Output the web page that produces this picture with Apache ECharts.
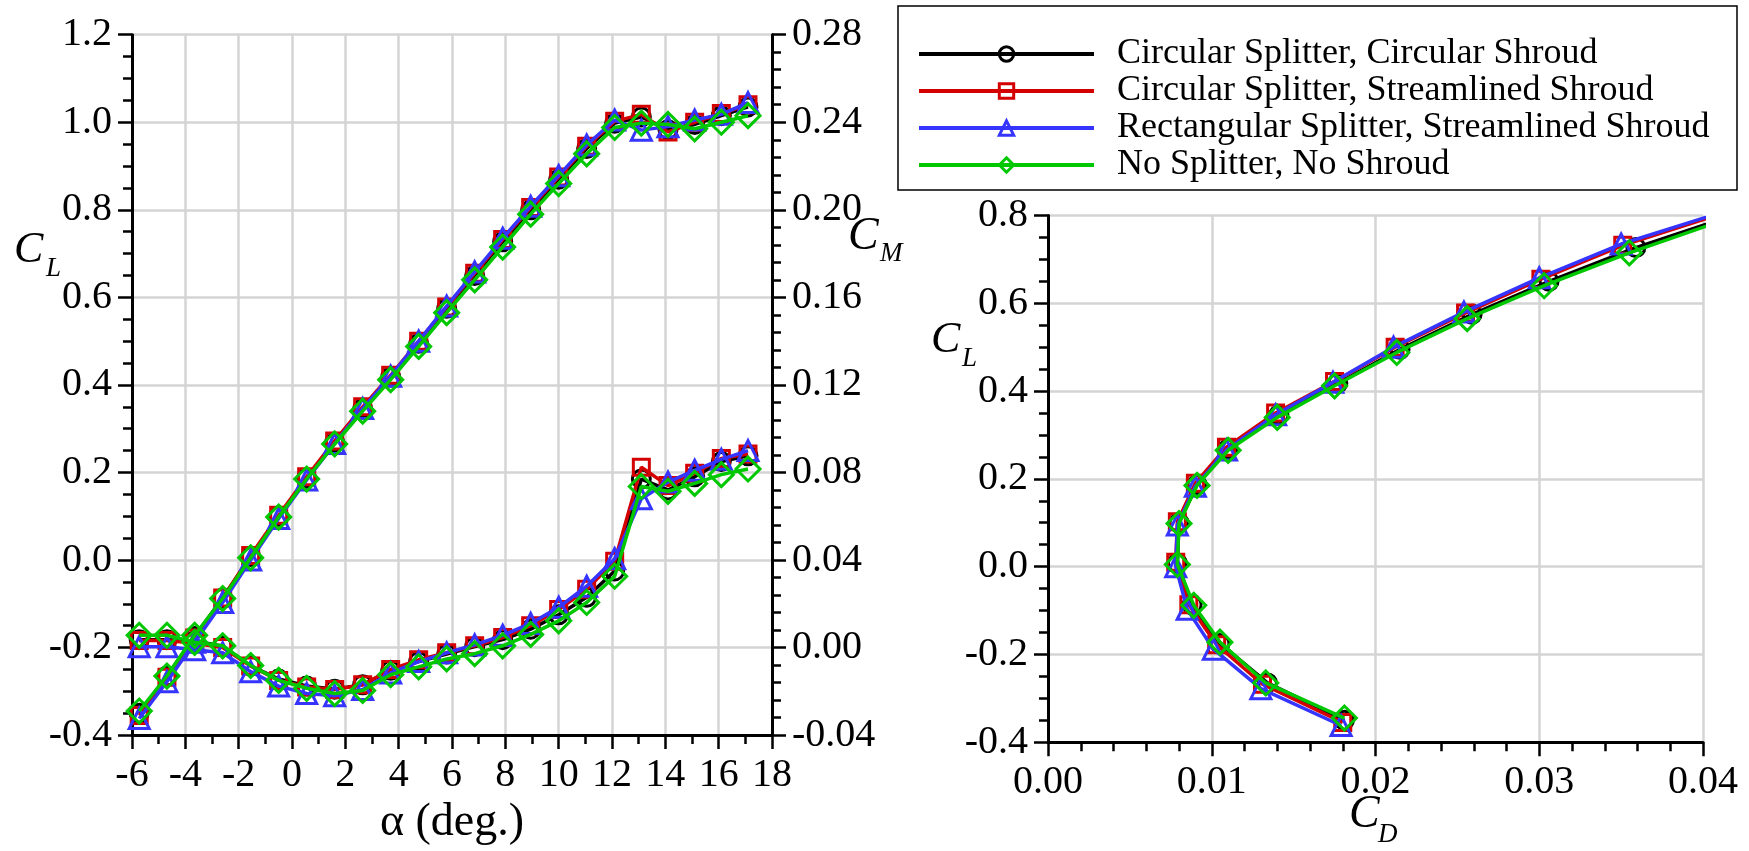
<!DOCTYPE html>
<html>
<head>
<meta charset="utf-8">
<script src="https://cdn.jsdelivr.net/npm/echarts@6/dist/echarts.min.js"></script>
<style>
html,body{margin:0;padding:0;background:#fff;}
#c{width:1749px;height:851px;}
</style>
</head>
<body>
<div id="c"></div>
<script>
// ---- data ----
const seriesNames = ['Circular Splitter, Circular Shroud','Circular Splitter, Streamlined Shroud','Rectangular Splitter, Streamlined Shroud','No Splitter, No Shroud'];
const alpha = [-5.73,-4.69,-3.65,-2.6,-1.55,-0.5,0.55,1.6,2.65,3.7,4.75,5.8,6.85,7.9,8.95,10.0,11.05,12.1,13.1,14.1,15.1,16.1,17.1];

const clCirCir = [-0.350,-0.265,-0.175,-0.087,0.008,0.100,0.187,0.268,0.346,0.418,0.495,0.575,0.650,0.727,0.800,0.870,0.940,0.998,1.012,0.983,0.995,1.015,1.035];
const clCirStr = [-0.355,-0.268,-0.178,-0.087,0.010,0.102,0.190,0.272,0.350,0.422,0.500,0.578,0.655,0.732,0.805,0.875,0.945,1.002,1.018,0.978,1.000,1.020,1.040];
const clRecStr = [-0.362,-0.278,-0.188,-0.097,0.000,0.095,0.183,0.266,0.346,0.420,0.500,0.580,0.658,0.735,0.808,0.878,0.948,1.005,0.982,0.990,1.005,1.018,1.045];
const clNone   = [-0.345,-0.265,-0.172,-0.088,0.005,0.098,0.185,0.265,0.340,0.412,0.488,0.565,0.640,0.715,0.790,0.860,0.928,0.988,0.998,0.995,0.985,1.000,1.015];

const cmCirCir = [0.0036,0.0036,0.0030,0.0006,-0.0084,-0.0144,-0.0176,-0.0190,-0.0170,-0.0104,-0.0064,-0.0030,0.0004,0.0036,0.0084,0.0150,0.0230,0.0350,0.0770,0.0720,0.0780,0.0850,0.0876];
const cmCirStr = [0.0032,0.0032,0.0020,0.0000,-0.0084,-0.0150,-0.0180,-0.0192,-0.0170,-0.0100,-0.0056,-0.0024,0.0008,0.0046,0.0100,0.0174,0.0266,0.0394,0.0824,0.0740,0.0796,0.0864,0.0884];
const cmRecStr = [0.0004,0.0004,-0.0010,-0.0024,-0.0110,-0.0176,-0.0210,-0.0220,-0.0192,-0.0116,-0.0064,-0.0024,0.0012,0.0056,0.0110,0.0184,0.0280,0.0406,0.0680,0.0756,0.0810,0.0860,0.0900];
const cmNone   = [0.0056,0.0056,0.0024,0.0008,-0.0082,-0.0150,-0.0186,-0.0210,-0.0196,-0.0124,-0.0088,-0.0052,-0.0028,0.0008,0.0060,0.0122,0.0206,0.0326,0.0736,0.0714,0.0750,0.0790,0.0816];

// drag polar (first 15 angles, the last one lies beyond the axis end)
const cdCirCir = [0.0181,0.0134,0.0105,0.0088,0.0079,0.0080,0.0091,0.0110,0.0141,0.0177,0.0215,0.0259,0.0306,0.0359,0.0418];
const cdCirStr = [0.0180,0.0131,0.0103,0.0086,0.0078,0.0079,0.0090,0.0109,0.0139,0.0175,0.0212,0.0255,0.0301,0.0351,0.0412];
const cdRecStr = [0.0179,0.0130,0.0101,0.0085,0.0078,0.0079,0.0090,0.0109,0.0139,0.0174,0.0211,0.0254,0.0300,0.0350,0.0412];
const cdNone   = [0.0181,0.0133,0.0105,0.0089,0.0079,0.0080,0.0091,0.0110,0.0140,0.0175,0.0213,0.0256,0.0303,0.0355,0.0413];

const xTicksAlpha = {min:-6, max:18, step:2};
const yTicksCL = {min:-0.4, max:1.2, step:0.2};
const yTicksCM = {min:-0.04, max:0.28, step:0.04};
const xTicksCD = {min:0, max:0.04, step:0.01};
const yTicksCL2 = {min:-0.4, max:0.8, step:0.2};

// ---- styles ----
const FONT = '"Liberation Serif","Times New Roman",serif';
const colors = ['#000000','#d40000','#3535ff','#00c800'];
const symbols = ['circle','rect','triangle','diamond'];
const symSizes = [18,16,20,24];
const clSets = [clCirCir, clCirStr, clRecStr, clNone];
const cmSets = [cmCirCir, cmCirStr, cmRecStr, cmNone];
const cdSets = [cdCirCir, cdCirStr, cdRecStr, cdNone];

function axisCommon(t, dec, minorSplit){
  return {
    type:'value', min:t.min, max:t.max, interval:t.step,
    axisLine:{show:true, onZero:false, lineStyle:{color:'#000', width:3}},
    axisTick:{show:true, inside:false, length:14, lineStyle:{color:'#000', width:2.5}},
    minorTick:{show:true, splitNumber:minorSplit, length:9, lineStyle:{color:'#000', width:2.5}},
    splitLine:{show:true, lineStyle:{color:'#d4d4d4', width:2.5}},
    minorSplitLine:{show:false},
    axisLabel:{color:'#000', fontFamily:FONT, fontSize:40, margin:20,
      formatter:function(v){ return (Math.abs(v) < 1e-9 ? 0 : v).toFixed(dec); }}
  };
}

const series = [];
for (let k=0;k<4;k++){
  const base = {
    type:'line', name:seriesNames[k], symbol:symbols[k], symbolSize:symSizes[k],
    showSymbol:true, showAllSymbol:true, animation:false, z:2+k,
    lineStyle:{color:colors[k], width:3.5},
    itemStyle:{color:'rgba(255,255,255,0)', borderColor:colors[k], borderWidth:3}
  };
  series.push(Object.assign({}, base, {xAxisIndex:0, yAxisIndex:0,
    data: alpha.map((a,i)=>[a, clSets[k][i]])}));
  series.push(Object.assign({}, base, {xAxisIndex:0, yAxisIndex:1,
    data: alpha.map((a,i)=>[a, cmSets[k][i]])}));
  series.push(Object.assign({}, base, {xAxisIndex:1, yAxisIndex:2, clip:true,
    data: cdSets[k].map((d,i)=>[d, clSets[k][i]])}));
}

const chart = echarts.init(document.getElementById('c'), null, {renderer:'canvas'});
const xA0 = axisCommon(xTicksAlpha, 0, 2);
xA0.gridIndex = 0;
xA0.name = 'α (deg.)';
xA0.nameLocation = 'middle';
xA0.nameGap = 50;
xA0.nameTextStyle = {color:'#000', fontFamily:FONT, fontSize:46};

const yA0 = axisCommon(yTicksCL, 1, 4); yA0.gridIndex = 0; yA0.position='left';
const yA1 = axisCommon(yTicksCM, 2, 5); yA1.gridIndex = 0; yA1.position='right';
yA1.splitLine = {show:false};

const xA1 = axisCommon(xTicksCD, 2, 5); xA1.gridIndex = 1;
const yA2 = axisCommon(yTicksCL2, 1, 4); yA2.gridIndex = 1; yA2.position='left';

function lbl(text, x, y, size){
  return {type:'text', left:x, top:y, z:10, silent:true,
    style:{text:text, fill:'#000', font:'italic '+size+'px '+FONT}};
}

chart.setOption({
  animation:false,
  backgroundColor:'#fff',
  grid:[
    {left:132, top:34.7, width:640, height:707.5, containLabel:false},
    {left:1048, top:215.5, width:655, height:526.7, containLabel:false}
  ],
  xAxis:[xA0, xA1],
  yAxis:[yA0, yA1, yA2],
  legend:{
    show:true, orient:'vertical', left:912, top:31, z:20,
    data:seriesNames, itemWidth:175, itemHeight:18, itemGap:1,
    lineStyle:{width:4},
    itemStyle:{borderWidth:3},
    textStyle:{color:'#000', fontFamily:FONT, fontSize:36, lineHeight:36, padding:[0,0,0,18]},
    selectedMode:false
  },
  graphic:[
    {type:'rect', z:1, silent:true, shape:{x:898, y:6, width:839, height:184},
     style:{fill:'#fff', stroke:'#000', lineWidth:1.5}},
    lbl('C', 14, 228, 44), lbl('L', 46, 255, 27),
    lbl('C', 848, 214, 46), lbl('M', 880, 240, 27),
    lbl('C', 931, 318, 44), lbl('L', 962, 345, 27),
    lbl('C', 1349, 792, 46), lbl('D', 1378, 821, 27)
  ],
  series:series
});
</script>
</body>
</html>
